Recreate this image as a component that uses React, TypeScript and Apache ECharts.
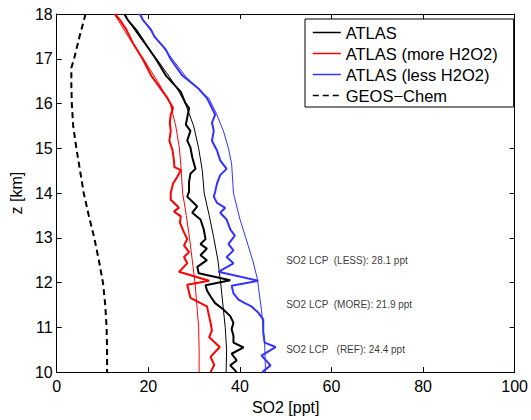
import React, { useEffect, useRef } from "react";
import * as echarts from "echarts";

const FONT = "'Liberation Sans', Arial, Helvetica, sans-serif";

// ATLAS (reference) profile — thick black
const atlasZ = [18.0, 17.87, 17.65, 17.36, 16.99, 16.63, 16.26, 16.01, 15.9, 15.68, 15.53, 15.39, 15.17, 15.02, 14.8, 14.54, 14.43, 14.25, 14.03, 13.92, 13.7, 13.56, 13.41, 13.19, 12.97, 12.86, 12.76, 12.61, 12.5, 12.35, 12.21, 12.05, 11.94, 11.83, 11.69, 11.54, 11.4, 11.25, 11.1, 10.96, 10.81, 10.66, 10.55, 10.41, 10.26, 10.15, 10.0];
const atlasX = [14.8, 15.5, 17.3, 19.2, 21.7, 23.8, 27.1, 28.1, 28.9, 28.5, 28.2, 29.2, 28.5, 29.2, 29.6, 30.3, 29.2, 28.9, 28.9, 28.5, 30.7, 29.6, 31.4, 32.1, 32.5, 31.4, 32.8, 31.4, 32.8, 30.7, 31.0, 37.9, 32.5, 32.8, 33.6, 34.6, 36.4, 37.9, 38.6, 38.2, 38.6, 38.6, 40.8, 38.2, 39.3, 37.9, 39.3];

// ATLAS smooth profile — thin black
const atlasFitZ = [18.0, 17.5, 17.0, 16.6, 16.3, 16.0, 15.5, 15.0, 14.5, 14.0, 13.5, 13.0, 12.5, 12.0, 11.5, 11.0, 10.5, 10.0];
const atlasFitX = [14.6, 18.0, 21.8, 24.6, 26.5, 28.1, 29.9, 31.0, 31.8, 32.2, 33.3, 34.3, 35.2, 35.8, 36.3, 36.8, 37.1, 37.0];

// ATLAS (more H2O2) — thick red
const moreZ = [18.0, 17.87, 17.65, 17.36, 16.99, 16.63, 16.33, 16.12, 15.9, 15.75, 15.57, 15.39, 15.17, 14.95, 14.73, 14.58, 14.51, 14.36, 14.21, 14.0, 13.85, 13.67, 13.59, 13.48, 13.34, 13.12, 12.97, 12.83, 12.68, 12.57, 12.43, 12.24, 12.04, 11.95, 11.66, 11.54, 11.47, 11.29, 11.1, 10.93, 10.78, 10.56, 10.34, 10.16, 10.0];
const moreX = [12.7, 13.8, 15.2, 16.6, 18.8, 20.6, 22.7, 24.2, 25.4, 24.9, 24.7, 24.9, 24.6, 25.3, 25.6, 25.7, 27.1, 26.3, 25.4, 24.9, 24.9, 26.7, 25.6, 27.1, 26.9, 27.8, 28.5, 27.8, 28.9, 27.8, 28.5, 26.7, 33.3, 28.5, 29.2, 31.4, 32.8, 33.2, 33.6, 33.9, 33.3, 35.6, 33.6, 34.4, 33.6];

// ATLAS (more H2O2) smooth — thin red
const moreFitZ = [18.0, 17.5, 17.0, 16.5, 16.0, 15.5, 15.0, 14.5, 14.0, 13.5, 13.0, 12.5, 12.0, 11.5, 11.0, 10.5, 10.0];
const moreFitX = [12.6, 15.6, 18.9, 22.0, 24.8, 26.0, 26.8, 27.2, 27.5, 28.3, 29.0, 29.6, 30.2, 30.6, 31.0, 31.1, 31.1];

// ATLAS (less H2O2) — thick blue
const lessZ = [18.0, 17.87, 17.65, 17.5, 17.21, 16.99, 16.63, 16.33, 16.12, 15.9, 15.75, 15.57, 15.39, 15.17, 14.95, 14.73, 14.54, 14.4, 14.21, 14.03, 13.92, 13.78, 13.67, 13.56, 13.41, 13.19, 13.05, 12.86, 12.72, 12.57, 12.43, 12.24, 12.04, 11.93, 11.76, 11.62, 11.54, 11.47, 11.33, 11.18, 10.88, 10.66, 10.56, 10.37, 10.15, 10.0];
const lessX = [18.2, 18.8, 20.6, 21.3, 23.8, 24.9, 27.4, 31.0, 32.8, 33.9, 34.6, 33.9, 34.3, 33.9, 35.0, 35.7, 37.1, 35.7, 35.0, 34.6, 34.3, 35.0, 36.8, 35.7, 37.1, 37.9, 38.9, 37.5, 38.6, 37.1, 38.6, 35.3, 44.0, 38.2, 38.6, 39.7, 41.1, 42.5, 44.0, 45.1, 45.1, 45.4, 47.8, 44.7, 46.7, 44.9];

// ATLAS (less H2O2) smooth — thin blue
const lessFitZ = [18.0, 17.5, 17.0, 16.6, 16.3, 16.12, 15.79, 15.39, 15.0, 14.65, 14.0, 13.42, 12.83, 12.46, 12.09, 11.4, 10.66, 10.0];
const lessFitX = [18.0, 21.4, 25.2, 28.2, 31.2, 33.2, 34.8, 36.4, 37.5, 38.2, 38.6, 40.0, 41.8, 42.9, 43.8, 44.7, 45.4, 45.6];

// GEOS-Chem — dashed black
const geosZ = [18.0, 17.5, 17.0, 16.8, 16.4, 16.0, 15.5, 15.0, 14.5, 14.0, 13.5, 13.0, 12.5, 12.0, 11.5, 11.0, 10.5, 10.0];
const geosX = [6.3, 5.0, 3.8, 3.2, 3.2, 3.3, 3.6, 4.3, 5.1, 5.9, 7.0, 8.2, 9.2, 10.1, 10.6, 10.9, 11.0, 11.0];

// Annotations
const noteTexts = ["SO2 LCP  (LESS): 28.1 ppt", "SO2 LCP  (MORE): 21.9 ppt", "SO2 LCP   (REF): 24.4 ppt"];
const noteX = [50, 50, 50];
const noteZ = [12.5, 11.5, 10.5];

const legendNames = ["ATLAS", "ATLAS (more H2O2)", "ATLAS (less H2O2)", "GEOS\u2212Chem"];

const pairs = (xs: number[], zs: number[]) => xs.map((x, i) => [x, zs[i]]);

export default function App() {
  const ref = useRef<HTMLDivElement>(null);
  useEffect(() => {
    const chart = echarts.init(ref.current!, null, { renderer: "svg" });
    const axisCommon = {
      axisLine: { show: true, onZero: false, lineStyle: { color: "#000", width: 1 } },
      axisTick: { show: true, inside: true, length: 5, lineStyle: { color: "#000" } },
      splitLine: { show: false },
    };
    const lineSeries = (name: string, xs: number[], zs: number[], color: string, width: number, type: any = "solid", z = 2) => ({
      name,
      type: "line",
      data: pairs(xs, zs),
      symbol: "none",
      showSymbol: false,
      z,
      lineStyle: { color, width, type },
      itemStyle: { color },
      emphasis: { disabled: true },
    });
    chart.setOption({
      animation: false,
      backgroundColor: "#fff",
      textStyle: { fontFamily: FONT },
      grid: { left: 53, right: 15, top: 14, bottom: 41, containLabel: false },
      xAxis: [
        {
          type: "value",
          min: 0,
          max: 100,
          interval: 20,
          position: "bottom",
          name: "SO2 [ppt]",
          nameLocation: "middle",
          nameGap: 23,
          nameTextStyle: { fontSize: 16, color: "#000", fontFamily: FONT },
          axisLabel: { fontSize: 16, color: "#000", margin: 6, fontFamily: FONT },
          ...axisCommon,
        },
        {
          type: "value",
          min: 0,
          max: 100,
          interval: 20,
          position: "top",
          axisLabel: { show: false },
          ...axisCommon,
        },
      ],
      yAxis: [
        {
          type: "value",
          min: 10,
          max: 18,
          interval: 1,
          position: "left",
          name: "z [km]",
          nameLocation: "middle",
          nameRotate: 90,
          nameGap: 29,
          nameTextStyle: { fontSize: 16, color: "#000", fontFamily: FONT },
          axisLabel: { fontSize: 16, color: "#000", margin: 4, fontFamily: FONT },
          ...axisCommon,
        },
        {
          type: "value",
          min: 10,
          max: 18,
          interval: 1,
          position: "right",
          axisLabel: { show: false },
          ...axisCommon,
        },
      ],
      legend: {
        data: legendNames,
        orient: "vertical",
        left: 305,
        top: 19,
        padding: [5, 16, 3, 7],
        itemWidth: 28,
        itemHeight: 14,
        itemGap: 4,
        backgroundColor: "#fff",
        borderColor: "#000",
        borderWidth: 1,
        borderRadius: 0,
        selectedMode: false,
        itemStyle: { opacity: 0, color: "rgba(0,0,0,0)", borderWidth: 0 },
        lineStyle: { width: 1.5 },
        textStyle: { fontSize: 16.5, color: "#000", fontFamily: FONT },
      },
      series: [
        lineSeries("ATLAS fit", atlasFitX, atlasFitZ, "#000", 1),
        lineSeries("ATLAS (more H2O2) fit", moreFitX, moreFitZ, "#ff0000", 1),
        lineSeries("ATLAS (less H2O2) fit", lessFitX, lessFitZ, "#3333ff", 1),
        lineSeries("ATLAS", atlasX, atlasZ, "#000", 2, "solid", 3),
        lineSeries("ATLAS (more H2O2)", moreX, moreZ, "#ff0000", 2, "solid", 3),
        lineSeries("ATLAS (less H2O2)", lessX, lessZ, "#3333ff", 2, "solid", 3),
        lineSeries("GEOS\u2212Chem", geosX, geosZ, "#000", 2, [6, 4], 3),
        {
          name: "notes",
          type: "scatter",
          data: pairs(noteX, noteZ),
          symbolSize: 1,
          itemStyle: { color: "rgba(0,0,0,0)" },
          silent: true,
          label: {
            show: true,
            position: "right",
            distance: 0,
            fontSize: 10,
            color: "#000",
            fontFamily: FONT,
            formatter: (p: any) => noteTexts[p.dataIndex],
          },
        },
      ],
    });
    return () => chart.dispose();
  }, []);
  return (
    <div
      ref={ref}
      style={{ position: "absolute", left: 0, top: 0, width: 531, height: 420, background: "#fff" }}
    />
  );
}
